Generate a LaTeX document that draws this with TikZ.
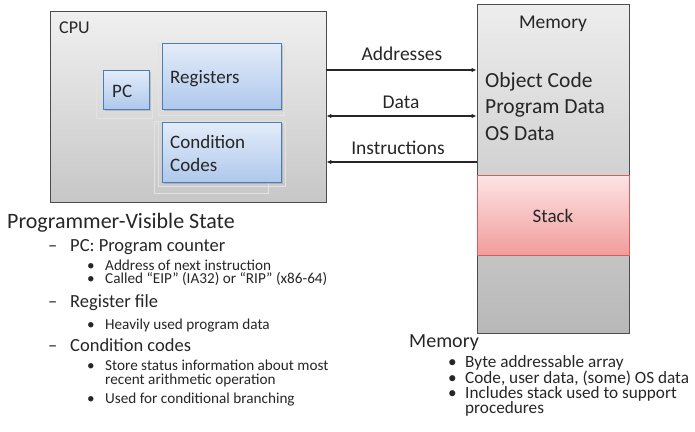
\documentclass[tikz,border=0pt]{standalone}
\usepackage{fontspec}
\setmainfont{Carlito}
\usetikzlibrary{arrows.meta,shadows}
\definecolor{txt}{HTML}{262626}
\definecolor{boxedge}{HTML}{4A7EBB}
\definecolor{boxtop}{HTML}{E3ECF9}
\definecolor{boxbot}{HTML}{AFC8EC}
\definecolor{stackedge}{HTML}{D06060}
\definecolor{stacktop}{HTML}{FDE4E5}
\definecolor{stackbot}{HTML}{F29C9C}
\definecolor{ghost}{HTML}{E2E2E2}
\tikzset{
  frame/.style={draw=black!70, line width=0.8pt, top color=black!6, bottom color=black!22,
    drop shadow={shadow xshift=1.2pt, shadow yshift=-1.2pt, opacity=0.35}},
  regbox/.style={draw=boxedge, line width=0.9pt, top color=boxtop, bottom color=boxbot,
    drop shadow={shadow xshift=1.2pt, shadow yshift=-1.2pt, opacity=0.35},
    inner sep=0pt, anchor=north west},
  regtext/.style={anchor=base west, inner sep=0pt, text=txt, font=\fontsize{19}{22}\selectfont},
  bus/.style={line width=1.2pt, black!85},
  tipr/.style={-{Latex[length=5pt,width=4.5pt]}},
  buslabel/.style={text=txt, font=\fontsize{19.5}{22}\selectfont, anchor=base, inner sep=0pt},
  head/.style={anchor=base west, text=txt, font=\fontsize{22}{24}\selectfont, inner sep=0pt},
  lvlone/.style={anchor=base west, text=txt, font=\fontsize{18.5}{22}\selectfont, inner sep=0pt},
  lvltwo/.style={anchor=base west, text=txt, font=\fontsize{15.2}{16}\selectfont, inner sep=0pt,
    text height=0.66em, text depth=0.1em},
  memlist/.style={anchor=base west, text=txt, font=\fontsize{17.2}{17}\selectfont, inner sep=0pt,
    text height=0.64em, text depth=0.1em},
  memtext/.style={anchor=base west, text=txt, font=\fontsize{21.5}{24}\selectfont, inner sep=0pt},
  outline/.style={draw=ghost, line width=0.6pt},
}
\begin{document}
\begin{tikzpicture}[x=1pt,y=-1pt]
\useasboundingbox (0,0) rectangle (695,431);

% processor
\node[frame, minimum width=276pt, minimum height=191pt, inner sep=0pt] (cpu) at (188,106.5) {};
\node[anchor=base west, inner sep=0pt, text=txt, font=\fontsize{18}{20}\selectfont] (cpulbl) at (59,33) {CPU};

% faint placeholder outlines behind the register boxes
\draw[outline] (96,70) rectangle (152,118);
\draw[outline] (158,43) rectangle (284,115);
\draw[outline] (154,121) rectangle (268,193);
\draw[outline] (158,121) rectangle (285,186);

\node[regbox, minimum width=46pt, minimum height=39pt] (pc) at (103,70) {};
\node[regbox, minimum width=119pt, minimum height=66pt] (regs) at (162,43) {};
\node[regbox, minimum width=119pt, minimum height=60pt] (cc) at (162,122) {};
\node[regtext] (pclbl) at (112,97) {PC};
\node[regtext] (regslbl) at (170,83) {Registers};
\node[regtext] (cclbl) at (170,148) {Condition};
\node[regtext] (cclbltwo) at (170,171) {Codes};

% memory
\node[frame, minimum width=152pt, minimum height=329pt, inner sep=0pt, top color=black!7, bottom color=black!28] (mem) at (553,168.5) {};
\node[draw=stackedge, line width=0.8pt, top color=stacktop, bottom color=stackbot,
      minimum width=152pt, minimum height=80pt, inner sep=0pt] (stack) at (553,215) {};
\node[regtext, anchor=base] (stacklbl) at (553,222) {Stack};
\node[buslabel] (memlbl) at (553,28) {Memory};
\node[memtext] (objcode) at (485,87) {Object Code};
\node[memtext] (progdata) at (485,113.5) {Program Data};
\node[memtext] (osdata) at (485,140) {OS Data};

% buses
\coordinate (a1) at (cpu.east |- 0,70);
\coordinate (a2) at (mem.west |- 0,70);
\coordinate (d1) at (cpu.east |- 0,116);
\coordinate (d2) at (mem.west |- 0,116);
\coordinate (i1) at (cpu.east |- 0,162);
\coordinate (i2) at (mem.west |- 0,162);
\draw[bus, tipr] (a1) -- (a2);
\draw[bus, {Latex[length=5pt,width=4.5pt]}-{Latex[length=5pt,width=4.5pt]}] (d1) -- (d2);
\draw[bus, tipr] (i2) -- (i1);
\node[buslabel] (addrlbl) at (402,60) {Addresses};
\node[buslabel] (datalbl) at (401,108) {Data};
\node[buslabel] (instrlbl) at (398,154) {Instructions};

% programmer-visible state
\node[head] (pvs) at (7,228) {Programmer-Visible State};
\node[lvlone] (d1a) at (48,251) {–};
\node[lvlone] (pcl) at (70,251) {PC: Program counter};
\node[lvltwo] (b1) at (87,270) {•};
\node[lvltwo] (b1t) at (105,270) {Address of next instruction};
\node[lvltwo] (b2) at (87,283.5) {•};
\node[lvltwo] (b2t) at (105,283.5) {Called “EIP” (IA32) or “RIP” (x86-64)};
\node[lvlone] (d2a) at (48,307) {–};
\node[lvlone] (rfl) at (70,307) {Register file};
\node[lvltwo] (b3) at (87,329) {•};
\node[lvltwo] (b3t) at (105,329) {Heavily used program data};
\node[lvlone] (d3a) at (48,351) {–};
\node[lvlone] (ccl) at (70,351) {Condition codes};
\node[lvltwo] (b4) at (87,370) {•};
\node[lvltwo] (b4t) at (105,370) {Store status information about most};
\node[lvltwo] (b4u) at (105,384) {recent arithmetic operation};
\node[lvltwo] (b5) at (87,403) {•};
\node[lvltwo] (b5t) at (105,403) {Used for conditional branching};

% memory notes
\node[head, font=\fontsize{20}{24}\selectfont] (memhead) at (409,347.5) {Memory};
\node[memlist] (m1) at (448,367.5) {•};
\node[memlist] (m1t) at (465,367.5) {Byte addressable array};
\node[memlist] (m2) at (448,383) {•};
\node[memlist] (m2t) at (465,383) {Code, user data, (some) OS data};
\node[memlist] (m3) at (448,398.5) {•};
\node[memlist] (m3t) at (465,398.5) {Includes stack used to support};
\node[memlist] (m3u) at (465,413) {procedures};
\end{tikzpicture}
\end{document}
